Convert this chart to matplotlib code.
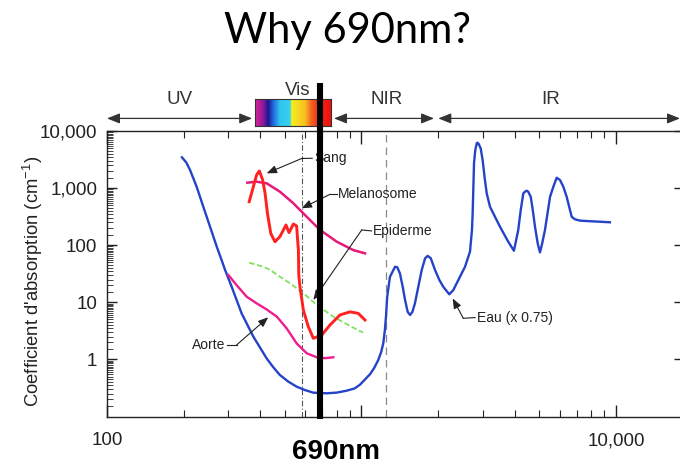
import numpy as np
import matplotlib
matplotlib.use("Agg")
import matplotlib.pyplot as plt
from matplotlib.transforms import blended_transform_factory
from matplotlib.colors import LinearSegmentedColormap
from matplotlib.ticker import LogLocator, NullFormatter, FixedLocator, FixedFormatter

plt.rcParams['font.family'] = ['Liberation Sans', 'DejaVu Sans']
plt.rcParams['mathtext.fontset'] = 'custom'
plt.rcParams['mathtext.rm'] = 'Liberation Sans'
plt.rcParams['mathtext.it'] = 'Liberation Sans'

# ---------------- data (wavelength nm, absorption cm^-1) ----------------
eau_nm = [197, 205, 212, 225, 239, 254, 270, 282, 291, 309, 338, 376, 424, 450, 478, 515, 556,
          600, 647, 730, 800, 874, 940, 986, 1080, 1120, 1164, 1195, 1218, 1235, 1248, 1262,
          1294, 1355, 1383, 1416, 1452, 1483, 1519,
          1552, 1585, 1622, 1672, 1725, 1778, 1820, 1872, 1944, 2023, 2096, 2213, 2296, 2366,
          2438, 2552, 2669, 2717, 2734, 2750, 2768, 2800, 2837, 2851, 2888, 2940, 2992, 3055,
          3105, 3198, 3500, 3773, 3972, 4130, 4224, 4324, 4390, 4457, 4520, 4624, 4710, 4806,
          4924, 5027, 5130, 5260, 5508, 5675, 5848, 6026, 6209, 6400, 6698, 6900, 7228, 9465]
eau = [3460, 2800, 2075, 1060, 472, 211, 94, 55, 37, 18.7, 6.4, 2.5, 1.04, 0.73, 0.533, 0.41, 0.333,
       0.29, 0.261, 0.255, 0.262, 0.283, 0.31, 0.36, 0.55, 0.7, 0.975, 1.35, 1.91, 3.2, 5.6, 12.5,
       28, 42, 41, 32, 18.7, 11, 6.8,
       6.0, 6.8, 9.6, 18.7, 37, 59, 65, 59, 37, 24.6, 18.7, 13.8, 16.4, 21.5,
       28, 42, 77, 185, 362, 927, 2720, 4650, 6090, 6250, 5920, 4980, 3100, 1386,
       811, 472, 211, 115, 80, 185, 413, 811, 865, 900, 865, 706, 413, 211,
       108, 75, 108, 185, 706, 1060, 1520, 1386, 1060, 706, 315, 284, 269, 252]

sang_nm = [362, 376, 387, 397, 409, 418, 427, 440, 457, 478, 505, 519, 540, 556, 565, 567,
           573, 591, 618, 647, 698, 752, 823, 901, 971, 1032]
sang = [578, 1060, 1695, 1995, 1387, 811, 362, 161, 115, 141, 226, 166, 235, 217, 82, 30,
        18.7, 7.3, 3.74, 2.34, 2.67, 4.0, 6.0, 6.8, 6.4, 4.9]

mel_nm = [356, 387, 424, 478, 540, 609, 687, 800, 929, 1032]
mel = [1244, 1294, 1213, 865, 542, 315, 185, 115, 82, 72]

epi_nm = [362, 411, 437, 478, 524, 591, 667, 775, 901, 1016]
epi = [49.4, 42, 37, 28, 21.5, 14.4, 9.0, 5.6, 3.85, 2.94]

aor_nm = [300, 323, 354, 387, 424, 465, 508, 556, 609, 667, 720, 775]
aor = [30, 20, 12.5, 9.6, 7.5, 5.6, 3.5, 1.91, 1.28, 1.09, 1.05, 1.09]

# spectral bands (nm)
bands = [("UV", 100, 372, 192), ("NIR", 780, 1928, 1260), ("IR", 2004, 17847, 5555)]
vis_range = (382, 758)
rainbow_nm = [382, 411, 430, 450, 478, 524, 532, 600, 637, 687, 758]
rainbow_col = ['#e0209a', '#8a1a9a', '#1c1890', '#2268e0', '#30c4f0', '#38d0f0',
               '#f4ee20', '#f8c020', '#f46020', '#f02818', '#f01010']
marker_nm = 690
guide_nm = [585, 1245]

ytick_vals = [1, 10, 100, 1000, 10000]
ytick_labels = ['1', '10', '100', '1,000', '10,000']
xtick_vals = [100, 1000, 10000]
xtick_labels = ['100', '', '10,000']

# ---------------- figure ----------------
W, H = 680, 465
fig = plt.figure(figsize=(W / 100, H / 100), dpi=100)
ax = fig.add_axes([107 / W, (H - 417) / H, (W - 107) / W, 286 / H])
ax.set_xscale('log')
ax.set_yscale('log')
ax.set_xlim(100, 17847)
ax.set_ylim(0.098, 10000)

c_blue = '#2443c8'
c_red = '#ff2020'
c_pink = '#e8187a'
c_pink2 = '#ee1c8c'
c_green = '#80e060'

ax.plot(eau_nm, eau, color=c_blue, lw=1.7, zorder=3, solid_joinstyle='round')
ax.plot(sang_nm, sang, color=c_red, lw=2.1, zorder=4, solid_joinstyle='round')
ax.plot(mel_nm, mel, color=c_pink, lw=1.8, zorder=3, solid_joinstyle='round')
ax.plot(epi_nm, epi, color=c_green, lw=1.3, ls=(0, (3, 1.5)), zorder=3)
ax.plot(aor_nm, aor, color=c_pink2, lw=1.7, zorder=3, solid_joinstyle='round')

# guide lines
ax.axvline(guide_nm[0], ymin=0, ymax=0.99, color='#555555', lw=0.8, ls=(0, (5, 2, 1, 2)), zorder=2)
ax.axvline(guide_nm[1], ymin=0, ymax=1.0, color='#888888', lw=0.9, ls=(0, (6, 4)), zorder=2)

# axes styling
for s in ['left', 'bottom', 'top']:
    ax.spines[s].set_color('#222222')
    ax.spines[s].set_linewidth(1.0)
ax.spines['right'].set_visible(False)

ax.yaxis.set_major_locator(FixedLocator(ytick_vals))
ax.yaxis.set_major_formatter(FixedFormatter(ytick_labels))
ax.yaxis.set_minor_locator(LogLocator(base=10, subs=np.arange(1.5, 10, 0.5)))
ax.yaxis.set_minor_formatter(NullFormatter())
ax.xaxis.set_major_locator(FixedLocator(xtick_vals))
ax.xaxis.set_major_formatter(FixedFormatter(xtick_labels))
ax.xaxis.set_minor_locator(LogLocator(base=10, subs=np.arange(2, 10)))
ax.xaxis.set_minor_formatter(NullFormatter())

ax.tick_params(axis='both', which='both', direction='in', colors='#222222', labelcolor='#222222')
ax.tick_params(axis='y', which='major', length=7, width=1.0, left=True, right=True,
               labelsize=13.5, pad=7)
ax.tick_params(axis='y', which='minor', length=4, width=0.6, left=True, right=False)
ax.tick_params(axis='x', which='major', length=9, width=1.0, top=True, bottom=True,
               labelsize=13.5, pad=11)
ax.tick_params(axis='x', which='minor', length=5, width=0.8, top=True, bottom=True)
for t in ax.yaxis.get_major_ticks():
    t.tick2line.set_color('#888888')
    t.tick2line.set_markersize(4)

# ---------------- top band ----------------
bt = blended_transform_factory(ax.transData, ax.transAxes)
arrow_y = 1.044
for name, a, b, xc in bands:
    ax.annotate('', xy=(b, arrow_y), xytext=(a, arrow_y), xycoords=bt, textcoords=bt,
                arrowprops=dict(arrowstyle='<|-|>,head_length=0.55,head_width=0.22',
                                mutation_scale=14, color='#333333', lw=0.9,
                                shrinkA=0, shrinkB=0), annotation_clip=False)
    ax.text(xc, 1.093, name, transform=bt, ha='center', va='baseline', fontsize=13.5,
            color='#333333', clip_on=False)
ax.text(563, 1.126, 'Vis', transform=bt, ha='center', va='baseline', fontsize=13.5,
        color='#333333', clip_on=False)

# rainbow bar in its own axes
p0 = fig.transFigure.inverted().transform(bt.transform((vis_range[0], 1.0175)))
p1 = fig.transFigure.inverted().transform(bt.transform((vis_range[1], 1.112)))
cax = fig.add_axes([p0[0], p0[1], p1[0] - p0[0], p1[1] - p0[1]])
cax.set_zorder(-1)
lo, hi = np.log10(vis_range[0]), np.log10(vis_range[1])
stops = [(np.log10(n) - lo) / (hi - lo) for n in rainbow_nm]
stops[0], stops[-1] = 0.0, 1.0
cmap = LinearSegmentedColormap.from_list('rb', list(zip(stops, rainbow_col)))
grad = np.linspace(0, 1, 300)[None, :]
cax.imshow(grad, aspect='auto', cmap=cmap, extent=[0, 1, 0, 1])
cax.set_xticks([])
cax.set_yticks([])
for s in cax.spines.values():
    s.set_color('#333333')
    s.set_linewidth(0.8)

# 690 nm marker
ax.plot([marker_nm, marker_nm], [-0.007, 1.168], transform=bt, color='black', lw=4.4,
        clip_on=False, zorder=10, solid_capstyle='butt')

# ---------------- annotations ----------------
ann_kw = dict(fontsize=10, color='#222222')
arr = dict(arrowstyle='-|>,head_length=0.5,head_width=0.2', mutation_scale=12, color='#222222',
           lw=0.8, shrinkA=0, shrinkB=0)


def label(text, txy, kink, tip, ha='left'):
    ax.text(txy[0], txy[1], text, ha=ha, va='center', zorder=6, **ann_kw)
    ax.plot([txy[0] * (0.985 if ha == 'left' else 1.015), kink[0]], [txy[1], kink[1]],
            color='#222222', lw=0.8, zorder=6)
    ax.annotate('', xy=tip, xytext=kink, arrowprops=arr, zorder=6)


label('Sang', (650, 3330), (582, 3300), (424, 1815))
label('Melanosome', (811, 778), (752, 778), (582, 443))
label('Epiderme', (1112, 178), (1002, 185), (647, 11))
label('Aorte', (291, 1.79), (323, 1.79), (430, 5.46), ha='right')
label('Eau (x 0.75)', (2837, 5.4), (2512, 5.25), (2282, 11.7))

# ---------------- titles ----------------
fig.text(33 / W, (H - 281) / H, r"Coefficient d'absorption (cm$^{-1}$)", rotation=90,
         ha='center', va='center', fontsize=13.3, color='#222222')
fig.text(348 / W, 1 - 43 / H, 'Why 690nm?', ha='center', va='baseline', fontsize=30,
         family=['Lato', 'DejaVu Sans'], color='black')
fig.text(336 / W, (H - 458.5) / H, '690nm', ha='center', va='baseline', fontsize=20,
         fontweight='bold', color='black')

fig.savefig('out.png', dpi=100)
